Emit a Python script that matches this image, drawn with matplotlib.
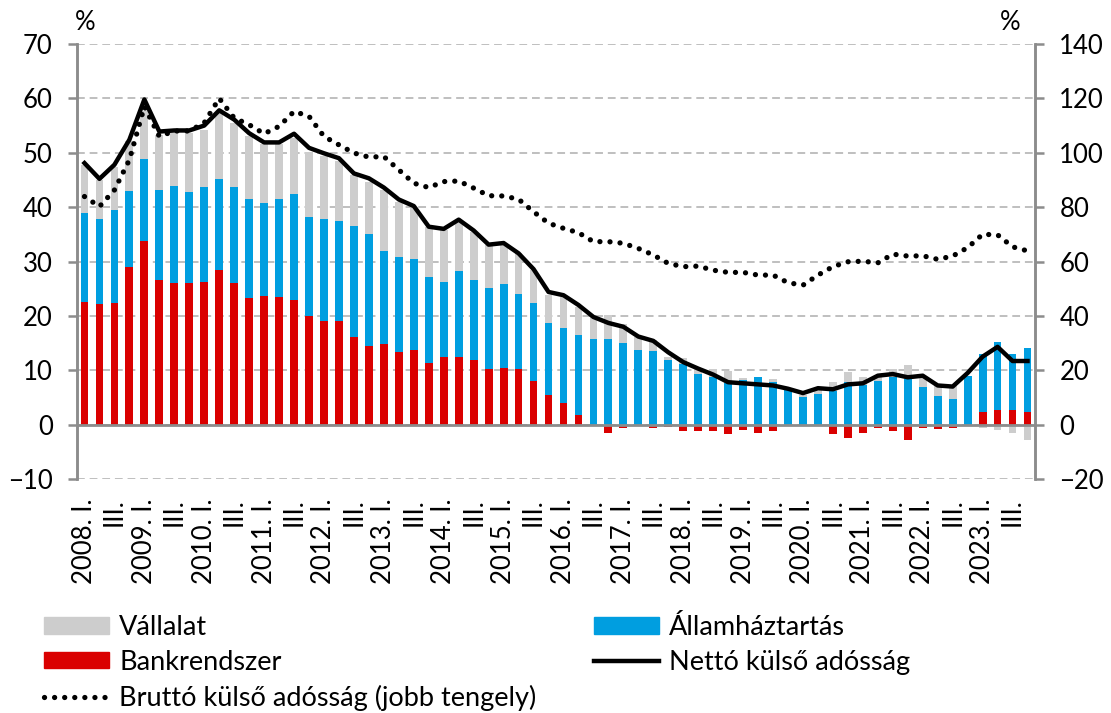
import numpy as np
import matplotlib.pyplot as plt
from matplotlib.lines import Line2D
from matplotlib.patches import Patch

plt.rcParams['font.family'] = ['Lato', 'DejaVu Sans']

years = list(range(2008, 2024))

# Bankrendszer (red), % of GDP
bank = [22.6, 22.1, 22.3, 28.9, 33.7, 26.6, 26.1, 26.1, 26.3, 28.5, 26.1, 23.3,
        23.7, 23.5, 23.0, 20.0, 19.0, 19.0, 16.2, 14.5, 14.9, 13.3, 13.8, 11.4,
        12.4, 12.4, 11.9, 10.3, 10.5, 10.3, 8.1, 5.5, 3.9, 1.8, 0.0, -1.5,
        -0.6, 0.0, -0.6, -0.5, -1.1, -1.1, -1.2, -1.7, -1.0, -1.5, -1.2, 0.0,
        0.0, 0.0, -1.7, -2.5, -1.5, -0.6, -1.1, -2.8, -0.6, -0.8, -0.6, 0.0,
        2.3, 2.7, 2.7, 2.3]
# Államháztartás (blue)
allam = [16.3, 15.8, 17.1, 14.0, 15.1, 16.6, 17.8, 16.6, 17.4, 16.6, 17.6, 18.2,
         17.1, 18.0, 19.4, 18.2, 18.8, 18.5, 20.3, 20.6, 17.1, 17.6, 16.6, 15.7,
         13.9, 15.8, 14.7, 14.9, 15.4, 13.7, 14.2, 13.1, 13.9, 14.6, 15.7, 15.7,
         15.0, 13.8, 13.5, 11.9, 11.1, 9.3, 8.7, 7.6, 8.2, 8.8, 7.9, 6.4,
         5.0, 5.6, 6.1, 7.8, 7.2, 8.0, 8.7, 8.3, 6.9, 5.2, 4.8, 9.0,
         10.7, 12.5, 10.2, 11.8]
# Vállalat (grey)
vallalat = [8.9, 7.1, 8.0, 9.2, 8.8, 10.1, 9.8, 11.0, 10.5, 12.2, 11.8, 11.5,
            10.8, 10.1, 10.3, 12.0, 11.6, 10.9, 9.4, 9.6, 11.2, 10.1, 9.4, 9.3,
            9.5, 9.1, 8.9, 7.8, 7.4, 7.5, 6.1, 5.2, 5.7, 5.2, 4.1, 4.4,
            3.5, 2.4, 2.0, 0.6, 1.2, 1.0, 1.6, 2.2, 0.4, 0.0, 0.5, 0.3,
            0.5, 0.7, 1.7, 1.9, 1.5, 1.0, 1.5, 2.6, 1.8, 2.0, 2.4, 0.0,
            -0.6, -1.0, -1.6, -2.8]
# Nettó külső adósság (left axis)
netto = [48.1, 45.2, 47.8, 52.4, 59.8, 53.9, 54.1, 54.1, 55.0, 57.8, 56.1, 53.6,
         51.9, 51.9, 53.5, 50.9, 49.9, 49.0, 46.2, 45.3, 43.6, 41.4, 40.2, 36.4,
         36.0, 37.7, 35.7, 33.1, 33.4, 31.5, 28.6, 24.4, 23.8, 22.0, 19.8, 18.7,
         18.0, 16.2, 15.4, 13.3, 11.5, 10.3, 9.2, 7.8, 7.6, 7.4, 7.2, 6.6,
         5.8, 6.7, 6.5, 7.4, 7.6, 9.0, 9.3, 8.7, 9.0, 7.2, 7.0, 9.5,
         12.5, 14.3, 11.7, 11.7]
# Bruttó külső adósság (right axis)
brutto = [83.9, 80.2, 86.3, 97.4, 117.0, 106.0, 108.0, 108.0, 111.0, 120.0, 112.8, 110.3,
          107.0, 109.7, 115.2, 113.4, 106.0, 102.9, 99.9, 98.4, 98.6, 93.7, 88.8, 87.2,
          89.4, 89.6, 87.0, 84.2, 84.1, 82.9, 78.3, 74.1, 72.2, 70.6, 67.3, 67.3,
          66.7, 64.8, 62.4, 59.3, 58.1, 58.3, 56.8, 56.0, 56.0, 55.0, 55.0, 52.2,
          51.3, 55.0, 58.1, 59.9, 60.1, 59.5, 62.7, 62.0, 62.1, 60.8, 62.0, 65.1,
          70.0, 69.8, 65.4, 63.9]

labels = []
for y in years:
    labels += [f'{y}. I.', '', 'III.', '']

c_grey = '#CDCDCD'
c_blue = '#009EE0'
c_red = '#DA0000'
grid_c = '#BFBFBF'
axis_c = '#8C8C8C'
fs = 18.5
fs_leg = 19.5

fig = plt.figure(figsize=(11.11, 7.13), dpi=100)
ax = fig.add_axes([77 / 1111, 1 - 479 / 713, (1035 - 77) / 1111, (479 - 44) / 713])
ax2 = ax.twinx()

x = np.arange(len(bank))
pos = np.zeros(len(x))
neg = np.zeros(len(x))
for vals, col in [(bank, c_red), (allam, c_blue), (vallalat, c_grey)]:
    v = np.array(vals)
    bottom = np.where(v >= 0, pos, neg)
    ax.bar(x, v, bottom=bottom, width=0.52, color=col, zorder=2)
    pos = pos + np.where(v >= 0, v, 0)
    neg = neg + np.where(v < 0, v, 0)

ax.plot(x, netto, color='black', lw=3.2, zorder=4, solid_joinstyle='round')
ax2.plot(x, brutto, color='black', lw=3.8, linestyle=(0, (0.01, 1.9)),
         dash_capstyle='round', zorder=5)

ax.set_xlim(-0.5, len(x) - 0.5)
ax.set_ylim(-10, 70)
ax.set_yticks(range(-10, 71, 10))
ax2.set_ylim(-20, 140)
ax2.set_yticks(range(-20, 141, 20))

ax.grid(axis='y', color=grid_c, linestyle=(0, (4, 2.5)), linewidth=1.4, zorder=0)
ax.set_axisbelow(True)
ax.axhline(0, color=axis_c, lw=2, zorder=3)

for a in (ax, ax2):
    a.spines['top'].set_visible(False)
    a.spines['bottom'].set_visible(False)
    a.spines['left'].set_color(axis_c)
    a.spines['right'].set_color(axis_c)
    a.spines['left'].set_linewidth(1.8)
    a.spines['right'].set_linewidth(1.8)
    a.tick_params(axis='y', labelsize=fs, colors='black', color=axis_c,
                  length=6.5, width=1.8, pad=11)

ax.set_xticks(x)
ax.set_xticklabels(labels, rotation=90, fontsize=fs, va='top')
ax.tick_params(axis='x', length=0, pad=14)

fig.text(85 / 1111, 1 - 22 / 713, '%', fontsize=fs, ha='center', va='center')
fig.text(1010 / 1111, 1 - 22 / 713, '%', fontsize=fs, ha='center', va='center')

h_grey = Patch(color=c_grey, label='Vállalat')
h_red = Patch(color=c_red, label='Bankrendszer')
h_brutto = Line2D([], [], color='black', lw=3.8, linestyle=(0, (0.01, 1.9)),
                  dash_capstyle='round', label='Bruttó külső adósság (jobb tengely)')
h_blue = Patch(color=c_blue, label='Államháztartás')
h_netto = Line2D([], [], color='black', lw=3.2, label='Nettó külső adósság')

common = dict(frameon=False, fontsize=fs_leg, handlelength=2.4, handleheight=0.55,
              handletextpad=0.38, labelspacing=0.36, borderpad=0, borderaxespad=0,
              loc='upper left')
leg1 = fig.legend(handles=[h_grey, h_red, h_brutto],
                  bbox_to_anchor=(44 / 1111, 1 - 615 / 713), **common)
leg2 = fig.legend(handles=[h_blue, h_netto],
                  bbox_to_anchor=(594 / 1111, 1 - 615 / 713), **common)

fig.savefig('out.png', dpi=100)
